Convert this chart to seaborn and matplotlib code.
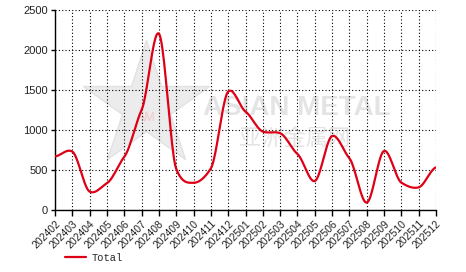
import numpy as np
import pandas as pd
import matplotlib
matplotlib.use("Agg")
import matplotlib.pyplot as plt
import seaborn as sns

months = ["202402", "202403", "202404", "202405", "202406", "202407", "202408",
          "202409", "202410", "202411", "202412", "202501", "202502", "202503",
          "202504", "202505", "202506", "202507", "202508", "202509", "202510",
          "202511", "202512"]
totals = [670, 730, 230, 335, 665, 1250, 2205, 515, 340, 520, 1480, 1230,
          980, 960, 700, 362, 925, 646, 92, 738, 342, 283, 533]
yticks = [0, 500, 1000, 1500, 2000, 2500]

sns.set_theme(style="white")
plt.rcParams['font.family'] = ['Liberation Sans', 'DejaVu Sans']


def smooth(xs, ys, n=20, tension=0.3):
    xs = np.asarray(xs, float)
    ys = np.asarray(ys, float)
    px, py = [], []
    m = len(xs)
    for i in range(m - 1):
        p0 = ys[i - 1] if i > 0 else ys[i]
        p1, p2 = ys[i], ys[i + 1]
        p3 = ys[i + 2] if i + 2 < m else ys[i + 1]
        t = np.linspace(0, 1, n, endpoint=False)
        m1 = tension * (p2 - p0)
        m2 = tension * (p3 - p1)
        h00 = 2 * t**3 - 3 * t**2 + 1
        h10 = t**3 - 2 * t**2 + t
        h01 = -2 * t**3 + 3 * t**2
        h11 = t**3 - t**2
        px.extend(xs[i] + t * (xs[i + 1] - xs[i]))
        py.extend(h00 * p1 + h10 * m1 + h01 * p2 + h11 * m2)
    px.append(xs[-1])
    py.append(ys[-1])
    return np.array(px), np.array(py)


idx = np.arange(len(months))
sx, sy = smooth(idx, totals)
df = pd.DataFrame({"x": sx, "Total": sy, "series": "Total"})

fig = plt.figure(figsize=(4.66, 2.72), dpi=100)
ax = fig.add_axes([55 / 466, 1 - 210 / 272, 381 / 466, 200 / 272])

# watermark
ax.plot([0.24], [0.52], marker="*", markersize=95, color="#ececec",
        markeredgecolor="#e2e2e2", transform=ax.transAxes, zorder=0,
        clip_on=False)
ax.text(0.24, 0.46, "AM", transform=ax.transAxes, fontsize=9,
        color="#f4c8c8", ha="center", va="center", zorder=0)
ax.text(0.635, 0.51, "ASIAN METAL", transform=ax.transAxes, fontsize=20,
        fontweight="bold", color="#e4e4e4", ha="center", va="center", zorder=0)
ax.text(0.63, 0.36, "亚洲金属网", transform=ax.transAxes, fontsize=16,
        color="#e4e4e4", ha="center", va="center", zorder=0,
        family=['Noto Sans CJK SC', 'DejaVu Sans'])

sns.lineplot(data=df, x="x", y="Total", hue="series", palette=["#dd0016"],
             linewidth=1.6, ax=ax, legend=False, zorder=3)

ax.set_xlim(0, len(months) - 1)
ax.set_ylim(0, 2500)
ax.set_xticks(idx)
ax.set_xticklabels(months, rotation=45, ha="right", rotation_mode="anchor",
                   fontsize=7.5)
ax.set_yticks(yticks)
ax.set_yticklabels([str(v) for v in yticks], fontsize=8)
ax.set_xlabel("")
ax.set_ylabel("")
ax.grid(True, color="black", linestyle=(0, (1, 2)), linewidth=0.8)
ax.set_axisbelow(False)
for s in ["top", "right"]:
    ax.spines[s].set_visible(False)
for s in ["left", "bottom"]:
    ax.spines[s].set_color("black")
    ax.spines[s].set_linewidth(1.0)
ax.tick_params(axis="both", which="both", direction="out", length=4,
               width=1.0, color="black", pad=2, labelcolor="#222222")
ax.tick_params(axis="x", bottom=True)
ax.tick_params(axis="y", left=True, length=3)

# legend
fig.legend(handles=[plt.Line2D([], [], color="#dd0016", linewidth=1.6)],
           labels=["Total"], loc="lower left",
           bbox_to_anchor=(56 / 466, 0.0), frameon=False,
           prop={"family": "Liberation Mono", "size": 7.5},
           handlelength=2.0, handletextpad=0.5)

fig.savefig("out.png", dpi=100)
